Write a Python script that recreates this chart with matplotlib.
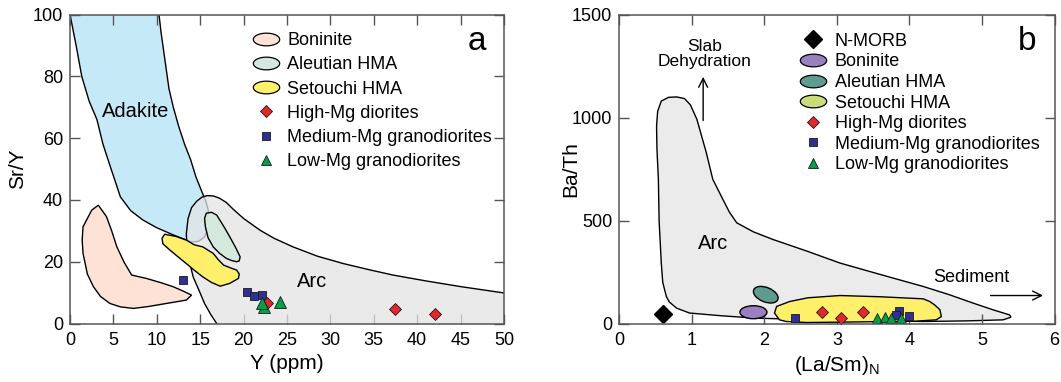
import matplotlib
matplotlib.use("Agg")
import matplotlib.pyplot as plt
from matplotlib.lines import Line2D
from matplotlib.path import Path
from matplotlib.patches import Ellipse
from matplotlib.transforms import ScaledTranslation
import numpy as np

plt.rcParams['font.family'] = ['Liberation Sans', 'DejaVu Sans']

# ---------------- panel a : Sr/Y vs Y ----------------
adakite_x = [0, 0.7, 1.35, 2.2, 3.1, 3.8, 4.5, 5.8, 7.0, 8.4, 10.0, 11.8, 13.4, 14.0, 14.8, 15.5,
             15.9, 16.0, 15.9, 15.6, 15.35, 15.0, 14.5, 13.9, 13.2, 12.5, 11.9, 11.4, 11.1, 10.8,
             10.5, 10.25, 10.2, 0]
adakite_y = [100, 90, 80, 72, 66, 58, 52, 41, 36.5, 33.5, 31, 28.8, 27, 26.4, 26.6, 28,
             31, 34, 37, 40, 41.6, 44, 47.5, 53, 58, 64, 70, 76, 82, 88,
             94, 100, 102, 102]

arc_a_x = [16.9, 16.2, 15.5, 14.9, 14.2, 13.8, 13.5, 13.4, 13.6, 14.0, 14.6, 15.2, 15.8, 16.5,
           17.2, 18.0, 18.8, 20.0, 21.9, 23.5, 25.7, 28.5, 31.5, 34.5, 37.2, 41.0, 44.9, 50.0, 51.0]
arc_a_y = [0, 3, 6.5, 10.5, 15, 19.5, 24, 29, 34, 37.5, 39.6, 40.9, 41.4, 41.3,
           40.6, 39.2, 37, 34, 30.2, 27.6, 24.8, 21.8, 19.4, 17.4, 15.7, 13.8, 12.0, 9.9, 9.7]

bon_a_x = [3.26, 4.2, 4.8, 5.4, 6.2, 7.1, 8.8, 10.5, 11.9, 13.2, 14.0, 13.4, 11.1, 9.0, 7.3,
           5.8, 4.6, 3.5, 2.7, 2.0, 1.5, 1.4, 1.5, 2.5]
bon_a_y = [38.3, 34.6, 30, 24.8, 20, 15.7, 14.6, 13.2, 11.9, 10.3, 9.2, 7.6, 6.5, 5.5, 4.9,
           5.4, 6.5, 8.8, 11.9, 16, 22.7, 27, 31.3, 36.7]

aleu_a_x = [15.7, 16.3, 16.9, 17.7, 18.4, 19.1, 19.6, 19.5, 19.2, 18.6, 18.0, 17.2, 16.5, 15.9,
            15.6, 15.5]
aleu_a_y = [35.7, 36, 35.1, 31.5, 28.1, 24.5, 21.6, 20.3, 20, 20.4, 21.1, 22.8, 24.8, 27.8,
            31.3, 34]

seto_a_x = [10.9, 12.2, 13.4, 14.3, 15.3, 16.5, 17.1, 17.7, 18.6, 19.2, 19.5, 19.4, 18.4, 17.3,
            16.3, 15.3, 14.3, 13.4, 12.4, 11.5, 10.7, 10.6]
seto_a_y = [28.9, 28.2, 27, 25.5, 24.8, 22.7, 20.6, 18.9, 17.9, 17.3, 16, 14.6, 13.0, 12.1,
            13.3, 15.1, 17.3, 19.4, 21.7, 23.8, 25.8, 27.6]

hmg_a_x = [22.7, 37.4, 42.0]
hmg_a_y = [6.7, 4.6, 3.1]
mmg_a_x = [13.0, 20.4, 21.2, 22.1]
mmg_a_y = [14.0, 10.2, 8.8, 9.2]
lmg_a_x = [22.3, 22.1, 24.2]
lmg_a_y = [5.4, 6.6, 6.9]

# ---------------- panel b : Ba/Th vs (La/Sm)N ----------------
arc_b_x = [0.515, 0.53, 0.58, 0.68, 0.79, 0.9, 0.98, 1.07, 1.2, 1.29, 1.43, 1.52, 1.62, 1.85,
           2.12, 2.6, 3.04, 3.6, 4.19, 4.55, 4.88, 5.15, 5.38, 5.40, 5.29, 4.8, 4.19, 3.0,
           1.89, 1.4, 0.97, 0.79, 0.69, 0.65, 0.6, 0.58, 0.55, 0.54, 0.52]
arc_b_y = [959, 1030, 1080, 1098, 1100, 1092, 1062, 992, 830, 700, 602, 540, 489, 445,
           408, 350, 294, 238, 180, 140, 99, 67, 42, 31, 18, 13, 10, 16,
           26, 38, 51, 75, 105, 131, 200, 294, 500, 700, 850]

seto_b_x = [2.17, 2.35, 2.6, 3.04, 3.6, 4.19, 4.28, 4.35, 4.42, 4.44, 4.37, 4.1, 3.73, 3.1,
            2.58, 2.3, 2.21, 2.14]
seto_b_y = [83, 107, 125, 136, 130, 120, 107, 90, 67, 34, 18, 12, 10, 7,
            5, 10, 18, 51]

bon_b_xy = (1.85, 55)
aleu_b_xy = (2.02, 140)
morb_x = [0.6]
morb_y = [46]

hmg_b_x = [2.80, 3.06, 3.36]
hmg_b_y = [54, 29, 58]
mmg_b_x = [2.42, 3.86, 3.81, 4.00]
mmg_b_y = [26, 62, 42, 38]
lmg_b_x = [3.55, 3.67, 3.75, 3.89]
lmg_b_y = [29, 34, 29, 29]

# colours
c_adak = '#c6e9f8'
c_arc = '#ebebeb'
c_arc_a = '#e4e4e4'   # drawn with alpha over the adakite field
c_bon_a = '#fde2d5'
c_aleu_a = '#d4e9dc'
c_seto = '#fff06c'
c_bon_b = '#9a80c0'
c_aleu_b = '#5f9c90'
c_seto_leg_b = '#c9de7a'
c_red = '#e5262b'
c_navy = '#2e3192'
c_green = '#00a04b'
edge = '#1a1a1a'

ell = np.linspace(0, 2 * np.pi, 60)
ellipse_marker = Path(np.column_stack([np.cos(ell), 0.48 * np.sin(ell)]), closed=True)

fig = plt.figure(figsize=(10.61, 3.82), dpi=100)
axa = fig.add_axes([0.066, 0.153, 0.409, 0.809])
axb = fig.add_axes([0.5836, 0.153, 0.4103, 0.809])

for ax in (axa, axb):
    ax.tick_params(direction='in', length=7, width=1, color='#555555', top=True, right=True,
                   labelsize=13)
    ax.tick_params(axis='x', pad=6)
    ax.tick_params(axis='y', pad=5)
    for s in ax.spines.values():
        s.set_color('#555555')
        s.set_linewidth(1.1)
        s.set_zorder(10)

# ---- panel a drawing
axa.fill(adakite_x, adakite_y, facecolor=c_adak, edgecolor='k', lw=1.0, zorder=1)
axa.fill(arc_a_x + [51, 16.9], arc_a_y + [-1, -1], facecolor=c_arc_a, alpha=0.75,
         edgecolor='none', zorder=2)
axa.plot(arc_a_x, arc_a_y, color='k', lw=1.0, zorder=3)
axa.fill(bon_a_x, bon_a_y, facecolor=c_bon_a, edgecolor='k', lw=1.0, zorder=3)
axa.fill(seto_a_x, seto_a_y, facecolor=c_seto, edgecolor='k', lw=1.0, zorder=4)
axa.fill(aleu_a_x, aleu_a_y, facecolor=c_aleu_a, edgecolor='k', lw=1.0, zorder=4)

axa.plot(mmg_a_x, mmg_a_y, 's', ms=6.3, mfc=c_navy, mec=edge, mew=0.6, ls='none', zorder=5)
axa.plot(hmg_a_x, hmg_a_y, 'D', ms=6.6, mfc=c_red, mec=edge, mew=0.6, ls='none', zorder=6)
axa.plot(lmg_a_x, lmg_a_y, '^', ms=8, mfc=c_green, mec=edge, mew=0.6, ls='none', zorder=6)

axa.text(7.6, 68.6, 'Adakite', fontsize=14.5, ha='center', va='center', zorder=7)
axa.text(27.9, 13.5, 'Arc', fontsize=14.5, ha='center', va='center', zorder=7)
axa.text(0.937, 0.912, 'a', transform=axa.transAxes, fontsize=24, ha='center', va='center')

axa.set_xlim(0, 50)
axa.set_ylim(0, 100)
axa.set_xticks(np.arange(0, 51, 5))
axa.set_yticks(np.arange(0, 101, 20))
axa.set_xlabel('Y (ppm)', fontsize=15, labelpad=4)
axa.set_ylabel('Sr/Y', fontsize=15)
axa.yaxis.set_label_coords(-0.099, 0.5)

leg_a = [
    Line2D([], [], marker=ellipse_marker, ms=19, mfc=c_bon_a, mec='k', mew=0.9, ls='none', label='Boninite'),
    Line2D([], [], marker=ellipse_marker, ms=19, mfc=c_aleu_a, mec='k', mew=0.9, ls='none', label='Aleutian HMA'),
    Line2D([], [], marker=ellipse_marker, ms=19, mfc=c_seto, mec='k', mew=0.9, ls='none', label='Setouchi HMA'),
    Line2D([], [], marker='D', ms=6, mfc=c_red, mec=edge, mew=0.6, ls='none', label='High-Mg diorites'),
    Line2D([], [], marker='s', ms=6, mfc=c_navy, mec=edge, mew=0.6, ls='none', label='Medium-Mg granodiorites'),
    Line2D([], [], marker='^', ms=7, mfc=c_green, mec=edge, mew=0.6, ls='none', label='Low-Mg granodiorites'),
]
axa.legend(handles=leg_a, loc='upper left', bbox_to_anchor=(0.415, 0.943), frameon=False,
           fontsize=13, handlelength=1.75, handletextpad=0.3, labelspacing=0.4,
           borderaxespad=0, borderpad=0)

# ---- panel b drawing
axb.fill(arc_b_x, arc_b_y, facecolor=c_arc, edgecolor='k', lw=1.0, zorder=1)
axb.fill(seto_b_x, seto_b_y, facecolor=c_seto, edgecolor='k', lw=1.0, zorder=2)
for (cx, cy), w, h, ang, col in [(bon_b_xy, 0.27, 0.13, 0, c_bon_b),
                                 (aleu_b_xy, 0.26, 0.145, -22, c_aleu_b)]:
    tr = fig.dpi_scale_trans + ScaledTranslation(cx, cy, axb.transData)
    axb.add_patch(Ellipse((0, 0), w, h, angle=ang, transform=tr, facecolor=col,
                          edgecolor='k', lw=1.0, zorder=3))

axb.plot(morb_x, morb_y, 'D', ms=9, mfc='k', mec='k', ls='none', zorder=5, clip_on=False)
axb.plot(mmg_b_x, mmg_b_y, 's', ms=6, mfc=c_navy, mec=edge, mew=0.6, ls='none', zorder=5)
axb.plot(hmg_b_x, hmg_b_y, 'D', ms=6.5, mfc=c_red, mec=edge, mew=0.6, ls='none', zorder=6)
axb.plot(lmg_b_x, lmg_b_y, '^', ms=7.5, mfc=c_green, mec=edge, mew=0.6, ls='none', zorder=6)

axb.text(1.29, 388, 'Arc', fontsize=14.5, ha='center', va='center', zorder=7)
axb.text(4.85, 224, 'Sediment', fontsize=13, ha='center', va='center', zorder=7)
axb.annotate('', xy=(5.88, 136), xytext=(5.08, 136),
             arrowprops=dict(arrowstyle='->', lw=1.0, color='k', mutation_scale=16), zorder=7)
axb.text(1.176, 1308, 'Slab\nDehydration', fontsize=12.5, ha='center', va='center',
         linespacing=0.95, zorder=7)
axb.annotate('', xy=(1.157, 1211), xytext=(1.157, 972),
             arrowprops=dict(arrowstyle='->', lw=1.0, color='k', mutation_scale=16), zorder=7)
axb.text(0.937, 0.912, 'b', transform=axb.transAxes, fontsize=24, ha='center', va='center')

axb.set_xlim(0, 6)
axb.set_ylim(0, 1500)
axb.set_xticks(np.arange(0, 7, 1))
axb.set_yticks([0, 500, 1000, 1500])
axb.set_xlabel('(La/Sm)$_\\mathregular{N}$', fontsize=15, labelpad=4)
axb.set_ylabel('Ba/Th', fontsize=15)
axb.yaxis.set_label_coords(-0.090, 0.5)

leg_b = [
    Line2D([], [], marker='D', ms=9, mfc='k', mec='k', ls='none', label='N-MORB'),
    Line2D([], [], marker=ellipse_marker, ms=19, mfc=c_bon_b, mec='k', mew=0.9, ls='none', label='Boninite'),
    Line2D([], [], marker=ellipse_marker, ms=19, mfc=c_aleu_b, mec='k', mew=0.9, ls='none', label='Aleutian HMA'),
    Line2D([], [], marker=ellipse_marker, ms=19, mfc=c_seto_leg_b, mec='k', mew=0.9, ls='none', label='Setouchi HMA'),
    Line2D([], [], marker='D', ms=6, mfc=c_red, mec=edge, mew=0.6, ls='none', label='High-Mg diorites'),
    Line2D([], [], marker='s', ms=6, mfc=c_navy, mec=edge, mew=0.6, ls='none', label='Medium-Mg granodiorites'),
    Line2D([], [], marker='^', ms=7, mfc=c_green, mec=edge, mew=0.6, ls='none', label='Low-Mg granodiorites'),
]
axb.legend(handles=leg_b, loc='upper left', bbox_to_anchor=(0.41, 0.941), frameon=False,
           fontsize=13, handlelength=1.75, handletextpad=0.3, labelspacing=0.2,
           borderaxespad=0, borderpad=0)

fig.savefig('out.png', dpi=100)
